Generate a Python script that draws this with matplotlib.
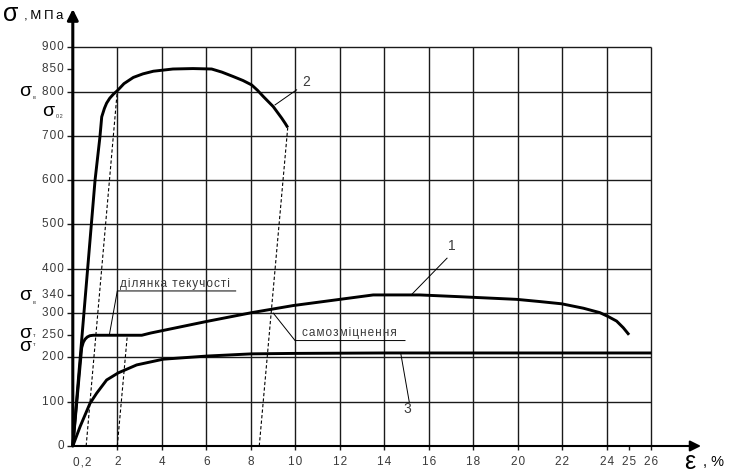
import matplotlib
matplotlib.use('Agg')
import matplotlib.pyplot as plt

#%%
# stress-strain curves (strain %, stress MPa)
eps_1 = [0, 0.40, 0.47, 0.55, 0.65, 0.77, 0.92, 3.1, 3.5, 6.0, 8.04, 9.9, 12.0, 13.5, 15.6,
         17.4, 19.95, 21.0, 21.97, 22.95, 23.69, 24.07, 24.44, 24.74, 25.0]
sig_1 = [0, 222, 234, 241, 246, 249, 250, 250, 255, 281, 301, 317, 331, 341, 341,
         337, 331, 326, 321, 311, 301, 292, 282, 267, 251]

eps_2 = [0, 1.0, 1.22, 1.30, 1.42, 1.52, 1.66, 1.82, 2.0, 2.3, 2.72, 3.15, 3.62, 4.5, 5.4,
         6.24, 6.7, 7.21, 7.65, 8.04, 8.3, 8.56, 9.01, 9.39, 9.55, 9.66]
sig_2 = [0, 600, 698, 743, 762, 774, 785, 794, 802, 818, 832, 840, 846, 851, 852,
         851, 844, 834, 825, 815, 803, 789, 766, 740, 728, 719]

eps_3 = [0, 0.33, 0.77, 1.07, 1.52, 2.04, 2.87, 4.07, 6.02, 8.04, 9.91, 14.0, 26.0]
sig_3 = [0, 44, 96, 119, 149, 165, 183, 196, 203, 208, 209, 210, 210]

# unloading (dashed) lines
unload_eps = [[0.6, 2.0], [2.0, 2.45], [8.38, 9.66]]
unload_sig = [[0, 802], [0, 250], [0, 719]]

# ticks
xticks = [0.4, 2, 4, 6, 8, 10, 12, 14, 16, 18, 20, 22, 24, 25, 26]
xlabels = ['0,2', '2', '4', '6', '8', '10', '12', '14', '16', '18', '20', '22', '24', '25', '26']
yticks = [0, 100, 200, 250, 300, 340, 400, 500, 600, 700, 800, 850, 900]
xgrid = [2, 4, 6, 8, 10, 12, 14, 16, 18, 20, 22, 24, 26]
ygrid = [100, 200, 300, 400, 500, 600, 700, 800, 900]

#%%
# pixel mapping of the original drawing
X0, XS = 72.8, 22.25
Y0, YS = 446.0, 0.443
W, H = 734, 475

def px(xp, yp):
    return (xp - X0) / XS, (Y0 - yp) / YS

def spaced(s, sep='\u200a'):
    return sep.join(s)

FONT = ['Liberation Sans Narrow', 'Liberation Sans', 'DejaVu Sans']
TXT = '#3a3a3a'

fig = plt.figure(figsize=(W / 100, H / 100), dpi=100)
ax = fig.add_axes([0, 0, 1, 1])
ax.set_xlim(-X0 / XS, (W - X0) / XS)
ax.set_ylim((Y0 - H) / YS, Y0 / YS)
ax.axis('off')

# grid
ax.vlines(xgrid, 0, 900, colors='#1a1a1a', lw=1.0)
ax.vlines(xticks[1:], -9, 0, colors='#1a1a1a', lw=1.0)
ax.hlines(ygrid, 0, 26, colors='#1a1a1a', lw=1.0)
ax.hlines(yticks, -0.26, 0, colors='#1a1a1a', lw=1.0)

# axes with arrows
ax.annotate('', xy=(px(701, 0)[0], 0), xytext=(0, 0),
            arrowprops=dict(arrowstyle='-|>', lw=1.5, color='k', mutation_scale=16,
                            shrinkA=0, shrinkB=0))
ax.annotate('', xy=(0, px(0, 9)[1]), xytext=(0, 0),
            arrowprops=dict(arrowstyle='-|>', lw=2.2, color='k', mutation_scale=16,
                            shrinkA=0, shrinkB=0))

# curves
ax.plot(eps_1, sig_1, color='k', lw=2.1, solid_capstyle='butt')
ax.plot(eps_2, sig_2, color='k', lw=2.1, solid_capstyle='butt')
ax.plot(eps_3, sig_3, color='k', lw=2.1, solid_capstyle='butt')
for e, s in zip(unload_eps, unload_sig):
    ax.plot(e, s, color='k', lw=0.8, linestyle=(0, (3, 2)))

# tick labels
for xv, lab in zip(xticks, xlabels):
    ax.text(xv, -37, spaced(lab), ha='center', va='center', fontsize=8.5,
            color=TXT, family=FONT)
for yv in yticks:
    ax.text(-0.4, yv, spaced(str(yv)), ha='right', va='center', fontsize=8.5,
            color=TXT, family=FONT)

# axis titles
ax.text(*px(3, 14), 'σ', ha='left', va='center', fontsize=18, family=FONT)
ax.text(*px(24, 16), spaced(',МПа', '\u2009'), ha='left', va='center', fontsize=9.5,
        family=FONT)
ax.text(*px(684, 462), 'ε', ha='left', va='center', fontsize=18, family=FONT)
ax.text(*px(703, 462), ', %', ha='left', va='center', fontsize=10.5, family=FONT)

# sigma marks at the stress axis
sig_marks = [((19, 92), 'в'), ((42, 111), '02'), ((19, 296), 'в')]
for (xp, yp), sub in sig_marks:
    ax.text(*px(xp, yp), 'σ', ha='left', va='center', fontsize=14, family=FONT)
    ax.text(*px(xp + 14, yp + 6), spaced(sub), ha='left', va='center', fontsize=4,
            color=TXT, family=FONT)
# two stacked yield marks
ax.text(*px(19, 340), 'σ\nσ', ha='left', va='center', fontsize=14, family=FONT,
        linespacing=0.75)
ax.text(*px(33, 340), 'т\nт', ha='left', va='center', fontsize=4, color=TXT,
        family=FONT, linespacing=2.2)

# leaders and notes
lw_l = 0.7
ax.plot([1.64, 2.0, 7.32], [250, 350, 350], color='k', lw=lw_l)
ax.text(2.1, 353, spaced('ділянка текучості'), ha='left', va='bottom', fontsize=8.5,
        color=TXT, family=FONT)
ax.plot([9.01, 9.99, 14.93], [300, 238, 238], color='k', lw=lw_l)
ax.text(10.3, 241, spaced('самозміцнення'), ha='left', va='bottom', fontsize=8.5,
        color=TXT, family=FONT)
ax.plot([15.23, 16.82], [342, 424], color='k', lw=lw_l)
ax.text(17.04, 451, '1', ha='center', va='center', fontsize=10, color=TXT, family=FONT)
ax.plot([9.09, 10.06], [770, 804], color='k', lw=lw_l)
ax.text(10.51, 822, '2', ha='center', va='center', fontsize=10, color=TXT, family=FONT)
ax.plot([14.74, 15.12], [209, 100], color='k', lw=lw_l)
ax.text(15.03, 83, '3', ha='center', va='center', fontsize=10, color=TXT, family=FONT)

plt.savefig('out.png', dpi=100)
